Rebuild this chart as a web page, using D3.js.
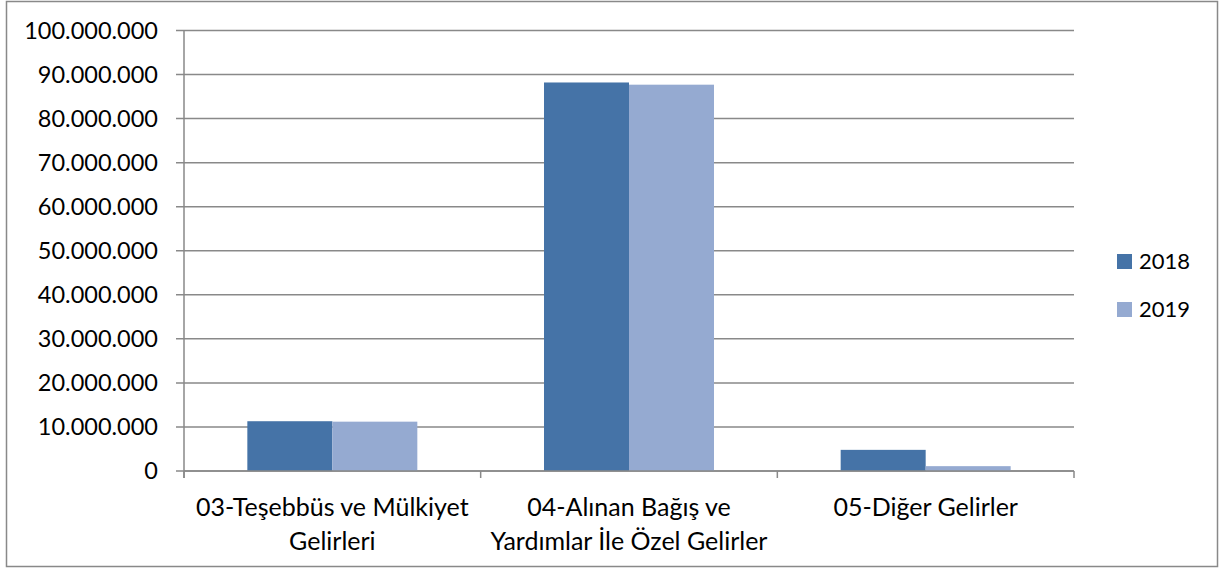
<!DOCTYPE html>
<html>
<head>
<meta charset="utf-8">
<script src="https://cdn.jsdelivr.net/npm/d3@7"></script>
<style>
  body { margin: 0; background: #fff; }
  text { font-family: Lato, "Open Sans", sans-serif; fill: #000; }
</style>
</head>
<body>
<div id="chart"></div>
<script>
// Data
const categories = [
  ["03-Teşebbüs ve Mülkiyet", "Gelirleri"],
  ["04-Alınan Bağış ve", "Yardımlar İle Özel Gelirler"],
  ["05-Diğer Gelirler"]
];
const seriesNames = ["2018", "2019"];
const values2018 = [11300000, 88200000, 4800000];
const values2019 = [11200000, 87700000, 1100000];
const yTicks = [0, 10e6, 20e6, 30e6, 40e6, 50e6, 60e6, 70e6, 80e6, 90e6, 100e6];

const colors = ["#4573A7", "#95AAD1"];
const width = 1220, height = 572;
const plot = { left: 184, right: 1074, top: 30.5, bottom: 471 };

const svg = d3.select("#chart").append("svg")
  .attr("width", width)
  .attr("height", height);

// outer frame
svg.append("rect")
  .attr("x", 6.5).attr("y", 1.5)
  .attr("width", 1211).attr("height", 565)
  .attr("fill", "#fff")
  .attr("stroke", "#898989")
  .attr("stroke-width", 1.5);

const x0 = d3.scaleBand()
  .domain(d3.range(categories.length))
  .range([plot.left, plot.right])
  .paddingInner(0.427)
  .paddingOuter(0.2135);

const x1 = d3.scaleBand()
  .domain(seriesNames)
  .range([0, x0.bandwidth()]);

const y = d3.scaleLinear()
  .domain([0, 100e6])
  .range([plot.bottom, plot.top]);

const fmt = v => d3.format(",")(v).replace(/,/g, ".");

// gridlines
svg.append("g")
  .selectAll("line")
  .data(yTicks)
  .join("line")
  .attr("x1", plot.left - 8)
  .attr("x2", plot.right)
  .attr("y1", d => y(d))
  .attr("y2", d => y(d))
  .attr("stroke", "#898989")
  .attr("stroke-width", 1.5);

// y labels
svg.append("g")
  .selectAll("text")
  .data(yTicks)
  .join("text")
  .attr("x", 158)
  .attr("y", d => y(d))
  .attr("dy", "0.35em")
  .attr("text-anchor", "end")
  .style("font-size", "23.5px")
  .text(fmt);

// bars
const rows = categories.map((c, i) => [values2018[i], values2019[i]]);
const groups = svg.append("g")
  .selectAll("g")
  .data(rows)
  .join("g")
  .attr("transform", (d, i) => `translate(${x0(i)},0)`);

groups.selectAll("rect")
  .data(d => d.map((v, j) => ({ v, j })))
  .join("rect")
  .attr("x", d => x1(seriesNames[d.j]))
  .attr("width", x1.bandwidth())
  .attr("y", d => y(d.v))
  .attr("height", d => y(0) - y(d.v))
  .attr("fill", d => colors[d.j]);

// axes lines
svg.append("line")
  .attr("x1", plot.left).attr("x2", plot.left)
  .attr("y1", plot.top).attr("y2", plot.bottom + 7)
  .attr("stroke", "#898989").attr("stroke-width", 1.5);
svg.append("line")
  .attr("x1", plot.left).attr("x2", plot.right)
  .attr("y1", plot.bottom).attr("y2", plot.bottom)
  .attr("stroke", "#898989").attr("stroke-width", 1.5);

// category ticks
const step = x0.step();
svg.append("g")
  .selectAll("line")
  .data(d3.range(categories.length + 1))
  .join("line")
  .attr("x1", i => plot.left + i * step)
  .attr("x2", i => plot.left + i * step)
  .attr("y1", plot.bottom)
  .attr("y2", plot.bottom + 7)
  .attr("stroke", "#898989").attr("stroke-width", 1.5);

// category labels
const catLabels = svg.append("g")
  .selectAll("text")
  .data(categories)
  .join("text")
  .attr("text-anchor", "middle")
  .attr("transform", (d, i) => `translate(${x0(i) + x0.bandwidth() / 2},${plot.bottom + 45})`)
  .style("font-size", "25px");

catLabels.selectAll("tspan")
  .data(d => d)
  .join("tspan")
  .attr("x", 0)
  .attr("y", (d, k) => k * 34)
  .text(d => d);

// legend
const legend = svg.append("g")
  .selectAll("g")
  .data(seriesNames)
  .join("g")
  .attr("transform", (d, i) => `translate(1117,${254 + i * 48})`);

legend.append("rect")
  .attr("width", 15).attr("height", 15)
  .attr("fill", (d, i) => colors[i]);

legend.append("text")
  .attr("x", 22)
  .attr("y", 7.5)
  .attr("dy", "0.36em")
  .style("font-size", "22px")
  .text(d => d);
</script>
</body>
</html>
